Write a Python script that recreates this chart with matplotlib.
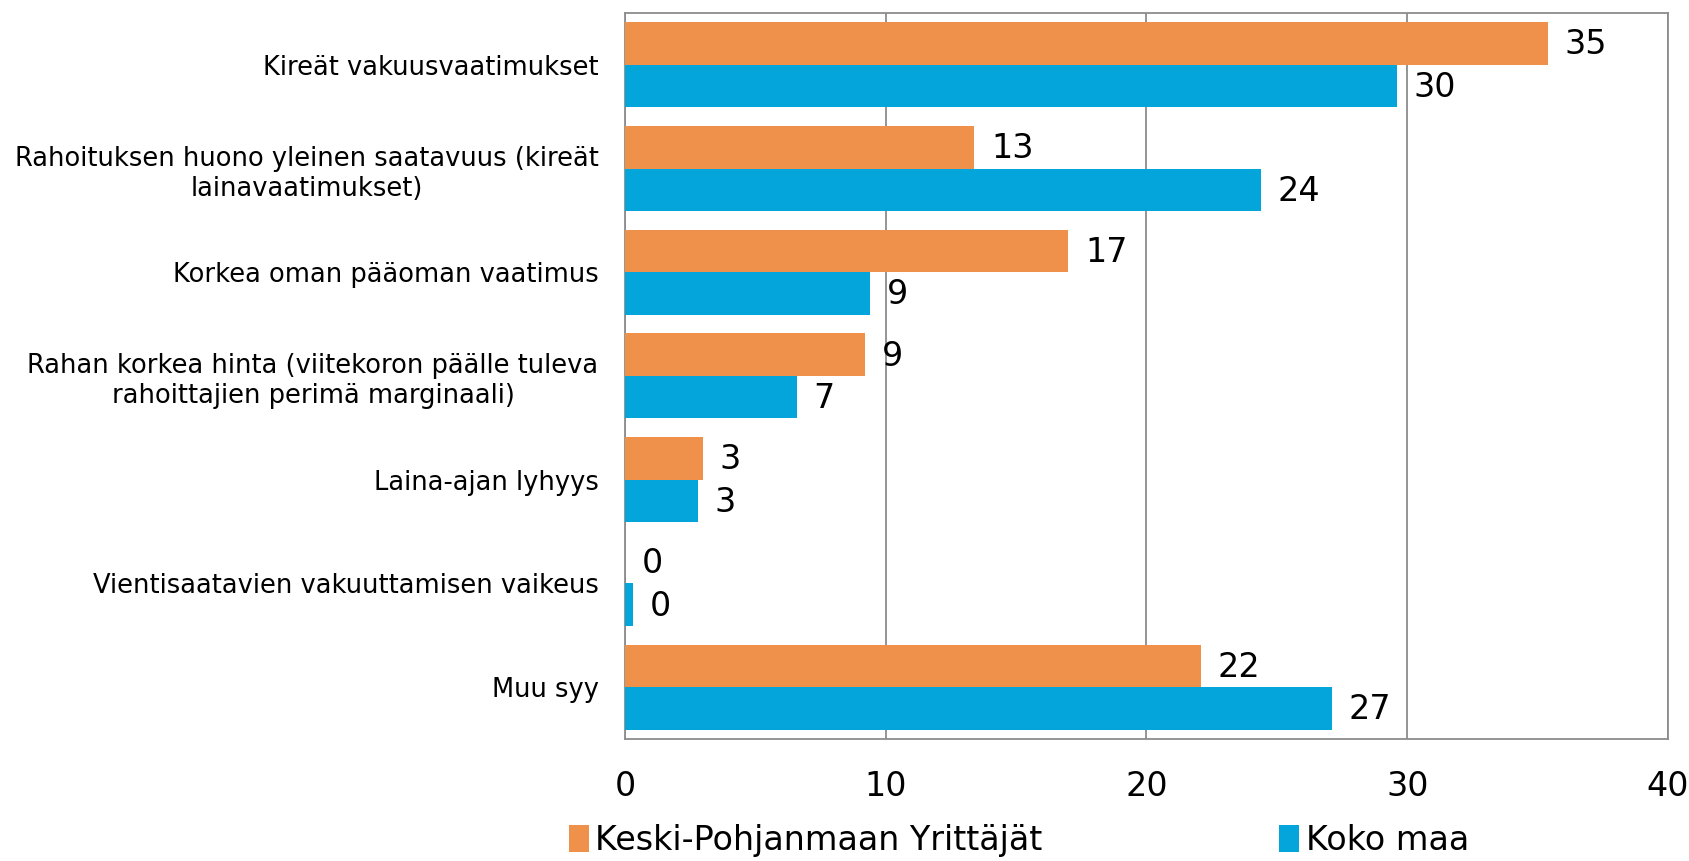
import matplotlib
matplotlib.use("Agg")
import matplotlib.pyplot as plt
import numpy as np

categories = [
    "Kireät vakuusvaatimukset",
    "Rahoituksen huono yleinen saatavuus (kireät\nlainavaatimukset)",
    "Korkea oman pääoman vaatimus",
    "Rahan korkea hinta (viitekoron päälle tuleva\nrahoittajien perimä marginaali)",
    "Laina-ajan lyhyys",
    "Vientisaatavien vakuuttamisen vaikeus",
    "Muu syy",
]
series_names = ["Keski-Pohjanmaan Yrittäjät", "Koko maa"]
keski = [35.4, 13.4, 17.0, 9.2, 3.0, 0.0, 22.1]
koko = [29.6, 24.4, 9.4, 6.6, 2.8, 0.3, 27.1]
xticks = [0, 10, 20, 30, 40]

colors = ["#F0914B", "#03A5DA"]
plt.rcParams["font.family"] = ["DejaVu Sans"]

fig = plt.figure(figsize=(16.9, 8.61), dpi=100)
ax = fig.add_axes([0.3698, 0.1417, 0.987 - 0.3698, 0.985 - 0.1417])

n = len(categories)
y = np.arange(n)
h = 0.41
b1 = ax.barh(y - h / 2, keski, height=h, color=colors[0], label=series_names[0], zorder=3)
b2 = ax.barh(y + h / 2, koko, height=h, color=colors[1], label=series_names[1], zorder=3)

for bars, vals in ((b1, keski), (b2, koko)):
    for rect, v in zip(bars, vals):
        ax.annotate(f"{v:.0f}", xy=(rect.get_width(), rect.get_y() + rect.get_height() / 2),
                    xytext=(12, -1), textcoords="offset points", va="center", ha="left",
                    fontsize=24, color="black")

ax.set_ylim(n - 0.5, -0.5)
ax.set_xlim(0, 40)
ax.set_xticks(xticks)
ax.set_xticklabels([str(t) for t in xticks], fontsize=24)
ax.set_yticks(y)
ax.set_yticklabels(categories, fontsize=18.5, multialignment="center")
ax.tick_params(axis="both", length=0)
ax.tick_params(axis="x", pad=22)
ax.tick_params(axis="y", pad=19)
ax.xaxis.grid(True, color="#8C8C8C", linewidth=1.3, zorder=0)
for s in ax.spines.values():
    s.set_color("#8C8C8C")
    s.set_linewidth(1.3)

leg = fig.legend(handles=[b1, b2], labels=series_names, loc="center",
                 bbox_to_anchor=(0.603, 0.024), ncol=2, frameon=False, fontsize=24,
                 handlelength=0.6, handleheight=0.9, handletextpad=0.2, columnspacing=7.1)

fig.savefig("out.png", dpi=100)
